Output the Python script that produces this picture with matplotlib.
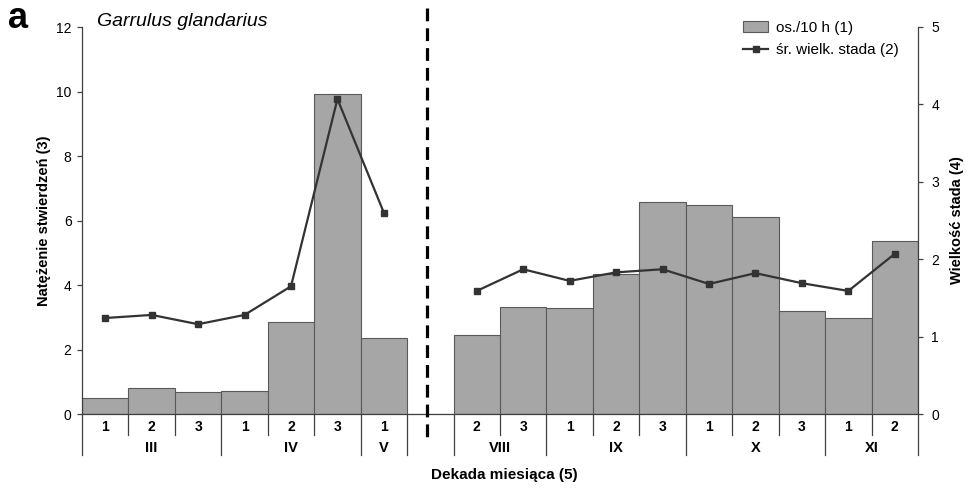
import numpy as np
import matplotlib
matplotlib.use("Agg")
import matplotlib.pyplot as plt
from matplotlib.patches import Patch
from matplotlib.lines import Line2D
import matplotlib.transforms as mtransforms

plt.rcParams['font.family'] = ['Liberation Sans', 'DejaVu Sans']

# Data (slot 7 is the empty gap between spring and autumn)
decades = ['1', '2', '3', '1', '2', '3', '1', '', '2', '3', '1', '2', '3', '1', '2', '3', '1', '2']
months = ['III', 'IV', 'V', '', 'VIII', 'IX', 'X', 'XI']
month_len = [3, 3, 1, 1, 2, 3, 3, 2]
birds_10h = [0.50, 0.81, 0.68, 0.71, 2.86, 9.93, 2.36, np.nan,
             2.45, 3.33, 3.30, 4.35, 6.56, 6.48, 6.12, 3.20, 2.97, 5.35]
flock_size = [1.24, 1.28, 1.16, 1.28, 1.65, 4.07, 2.60, np.nan,
              1.59, 1.87, 1.72, 1.83, 1.87, 1.68, 1.82, 1.69, 1.59, 2.07]
gap_slot = 7

x = np.arange(len(decades))
bar_color = '#a6a6a6'
edge_color = '#5a5a5a'
line_color = '#333333'
spine_color = '#404040'

fig = plt.figure(figsize=(9.72, 4.9), dpi=100)
ax = fig.add_axes([82 / 972, 1 - 414 / 490, (918 - 82) / 972, (414 - 27) / 490])

ax.bar(x, np.nan_to_num(birds_10h), width=1.0, color=bar_color,
       edgecolor=edge_color, linewidth=0.8, zorder=2)
ax.set_xlim(-0.5, len(decades) - 0.5)
ax.set_ylim(0, 12)
ax.set_yticks(np.arange(0, 13, 2))
ax.set_xticks([])
for s in ['top', 'right']:
    ax.spines[s].set_visible(False)
for s in ['left', 'bottom']:
    ax.spines[s].set_color(spine_color)
    ax.spines[s].set_linewidth(0.9)
ax.tick_params(axis='y', direction='out', length=3.5, width=0.9,
               color=spine_color, labelsize=10, pad=4)
ax.set_ylabel('Natężenie stwierdzeń (3)', fontsize=10.5, fontweight='bold', labelpad=4)

# Right axis: flock size
ax2 = ax.twinx()
ax2.plot(x, flock_size, color=line_color, linewidth=1.6, marker='s',
         markersize=4.5, zorder=3)
ax2.set_ylim(0, 5)
ax2.set_yticks(np.arange(0, 6, 1))
for s in ['top', 'left', 'bottom']:
    ax2.spines[s].set_visible(False)
ax2.spines['right'].set_color(spine_color)
ax2.spines['right'].set_linewidth(0.9)
ax2.tick_params(axis='y', direction='out', length=3.5, width=0.9,
                color=spine_color, labelsize=10, pad=6)
ax2.set_ylabel('Wielkość stada (4)', fontsize=10.5, fontweight='bold', labelpad=8)

# Category axis: decades and months
trans = mtransforms.blended_transform_factory(ax.transData, ax.transAxes)
short_y = -21 / 387
long_y = -41 / 387
for i, d in enumerate(decades):
    if d:
        ax.text(i, -13 / 387, d, transform=trans, ha='center', va='center',
                fontsize=10, fontweight='bold')
edges = np.concatenate([[0], np.cumsum(month_len)]) - 0.5
for i in range(len(decades) + 1):
    xe = i - 0.5
    yb = long_y if np.any(np.isclose(edges, xe)) else short_y
    ax.plot([xe, xe], [0, yb], transform=trans, color=spine_color,
            linewidth=0.9, clip_on=False)
for m, a, b in zip(months, edges[:-1], edges[1:]):
    if m:
        ax.text((a + b) / 2, -34 / 387, m, transform=trans, ha='center',
                va='center', fontsize=10.5, fontweight='bold')

# Dashed divider through the empty slot
ax.plot([gap_slot - 0.07, gap_slot - 0.07], [1.05, -0.075], transform=trans,
        color='black', linewidth=2.3, linestyle=(0, (4, 2.2)), clip_on=False, zorder=5)

fig.text(504 / 972, 1 - 475 / 490, 'Dekada miesiąca (5)', ha='center', va='center',
         fontsize=11, fontweight='bold')
fig.text(8 / 972, 1 - 19 / 490, 'a', ha='left', va='center', fontsize=26, fontweight='bold')
fig.text(97 / 972, 1 - 21 / 490, 'Garrulus glandarius', ha='left', va='center',
         fontsize=14, style='italic')

handles = [Patch(facecolor=bar_color, edgecolor=edge_color, linewidth=0.8),
           Line2D([], [], color=line_color, linewidth=1.6, marker='s', markersize=4.5)]
fig.legend(handles, ['os./10 h (1)', 'śr. wielk. stada (2)'], loc='upper right',
           bbox_to_anchor=(912 / 972, 1 - 7 / 490), frameon=False, fontsize=11,
           handlelength=1.6, handletextpad=0.5, labelspacing=0.55)

fig.savefig('out.png', dpi=100)
